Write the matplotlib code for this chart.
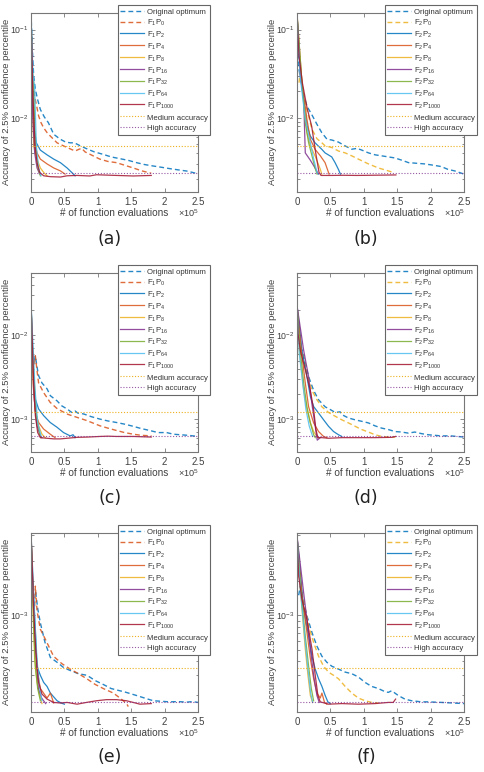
import matplotlib.pyplot as plt
from matplotlib.ticker import LogLocator, LogFormatterMathtext, NullFormatter

plt.rcParams['font.family'] = ['Liberation Sans', 'DejaVu Sans']
plt.rcParams['mathtext.fontset'] = 'custom'
plt.rcParams['mathtext.rm'] = 'Liberation Sans'
plt.rcParams['mathtext.it'] = 'Liberation Sans:italic'
plt.rcParams['mathtext.bf'] = 'Liberation Sans:bold'

# x in units of 1e5 function evaluations, y = accuracy
# ---- panel (a) ----
A_orig = ([0, 0.02, 0.04, 0.065, 0.1, 0.14, 0.2, 0.26, 0.34, 0.44, 0.52, 0.59, 0.65, 0.74, 0.85, 0.95, 1.08, 1.2, 1.33, 1.45, 1.58, 1.7, 1.83, 1.95, 2.08, 2.2, 2.33, 2.42, 2.5],
          [0.155, 0.06, 0.03, 0.021, 0.016, 0.0124, 0.0102, 0.0088, 0.0065, 0.0057, 0.0053, 0.0052, 0.0052, 0.0048, 0.0044, 0.0041, 0.00385, 0.0036, 0.00344, 0.0033, 0.0031, 0.00295, 0.00284, 0.00275, 0.00265, 0.00257, 0.00249, 0.0024, 0.00232])
A_p0 = ([0.04, 0.065, 0.09, 0.114, 0.15, 0.189, 0.24, 0.29, 0.39, 0.54, 0.66, 0.72, 0.76, 0.81, 0.9, 1.03, 1.15, 1.28, 1.4, 1.53, 1.66, 1.80],
        [0.02, 0.016, 0.013, 0.0105, 0.0088, 0.0077, 0.0068, 0.0062, 0.0052, 0.0046, 0.0042, 0.0044, 0.0045, 0.0041, 0.0038, 0.0034, 0.0032, 0.0031, 0.0029, 0.0027, 0.0025, 0.00235])
A_p2 = ([0, 0.025, 0.05, 0.08, 0.14, 0.24, 0.34, 0.44, 0.54, 0.61, 0.66],
        [0.155, 0.025, 0.0074, 0.0052, 0.0043, 0.0038, 0.0034, 0.0031, 0.0027, 0.0024, 0.0022])
A_p4 = ([0, 0.015, 0.04, 0.09, 0.14, 0.24, 0.34, 0.44, 0.51],
        [0.155, 0.0385, 0.0057, 0.004, 0.0034, 0.003, 0.0027, 0.0025, 0.0023])
A_p8 = ([0, 0.015, 0.04, 0.09, 0.14, 0.19, 0.24],
        [0.155, 0.03, 0.0048, 0.0034, 0.0027, 0.0024, 0.0022])
A_p16 = ([0, 0.025, 0.055, 0.09, 0.13],
         [0.155, 0.0105, 0.004, 0.0027, 0.0023])
A_p32 = ([0, 0.02, 0.04, 0.065, 0.1, 0.14],
         [0.155, 0.035, 0.025, 0.0052, 0.0028, 0.0022])
A_p64 = ([0, 0.03, 0.055, 0.08, 0.114, 0.15],
         [0.155, 0.03, 0.022, 0.0048, 0.0027, 0.0022])
A_p1000 = ([0, 0.03, 0.06, 0.09, 0.13, 0.19, 0.29, 0.44, 0.54, 0.69, 0.88, 0.98, 1.13, 1.28, 1.53, 1.8],
           [0.155, 0.016, 0.0048, 0.0031, 0.0024, 0.0022, 0.00215, 0.00213, 0.0022, 0.00222, 0.00219, 0.00226, 0.00224, 0.00222, 0.00219, 0.00222])

# ---- panel (b) ----
B_orig = ([0, 0.03, 0.1, 0.15, 0.22, 0.30, 0.37, 0.45, 0.52, 0.62, 0.72, 0.82, 0.90, 0.97, 1.07, 1.17, 1.27, 1.37, 1.47, 1.57, 1.67, 1.79, 1.91, 2.04, 2.16, 2.26, 2.36, 2.5],
          [0.15, 0.035, 0.018, 0.0135, 0.0109, 0.0084, 0.0068, 0.0057, 0.0056, 0.0053, 0.0048, 0.0044, 0.0045, 0.0043, 0.0040, 0.0038, 0.0037, 0.0036, 0.0035, 0.0033, 0.0031, 0.00305, 0.003, 0.0029, 0.0028, 0.0026, 0.0025, 0.0023])
B_p0 = ([0.03, 0.05, 0.1, 0.149, 0.224, 0.298, 0.373, 0.422, 0.522, 0.621, 0.721, 0.82, 0.919, 1.069, 1.218, 1.367, 1.44],
        [0.025, 0.0334, 0.0175, 0.0124, 0.0074, 0.0058, 0.0052, 0.0048, 0.0046, 0.0042, 0.0040, 0.0037, 0.0034, 0.0030, 0.0027, 0.0025, 0.0024])
B_p2 = ([0, 0.05, 0.1, 0.15, 0.2, 0.27, 0.37, 0.42, 0.52, 0.57, 0.62, 0.65],
        [0.15, 0.03, 0.0161, 0.0081, 0.0062, 0.0052, 0.0044, 0.0040, 0.0036, 0.0031, 0.0026, 0.0023])
B_p4 = ([0, 0.075, 0.149, 0.2, 0.27, 0.35, 0.42, 0.48],
        [0.15, 0.0247, 0.0096, 0.0057, 0.0044, 0.0037, 0.0031, 0.0023])
B_p8 = ([0, 0.05, 0.1, 0.149, 0.2, 0.27, 0.35, 0.37],
        [0.15, 0.033, 0.016, 0.0068, 0.0048, 0.0037, 0.0026, 0.0023])
B_p16 = ([0, 0.05, 0.1, 0.124, 0.2, 0.27, 0.32],
         [0.15, 0.03, 0.016, 0.004, 0.0033, 0.0027, 0.0023])
B_p32 = ([0, 0.075, 0.124, 0.174, 0.224, 0.27, 0.30],
         [0.15, 0.0247, 0.0088, 0.0052, 0.0037, 0.0027, 0.0023])
B_p64 = ([0, 0.05, 0.124, 0.2, 0.25, 0.3, 0.32],
         [0.15, 0.028, 0.0096, 0.0052, 0.0034, 0.0024, 0.0023])
B_p1000 = ([0, 0.03, 0.08, 0.15, 0.22, 0.28, 0.33, 0.36, 0.5, 0.7, 0.9, 1.1, 1.3, 1.48],
           [0.15, 0.05, 0.025, 0.013, 0.008, 0.004, 0.0024, 0.00222, 0.00222, 0.00223, 0.00222, 0.00223, 0.00224, 0.00225])

# ---- panel (c) ----
C_orig = ([0.05, 0.065, 0.09, 0.114, 0.164, 0.24, 0.29, 0.39, 0.46, 0.54, 0.61, 0.66, 0.70, 0.79, 0.9, 1.03, 1.15, 1.28, 1.4, 1.53, 1.65, 1.78, 1.9, 2.03, 2.13, 2.23, 2.35, 2.5],
          [0.005, 0.0057, 0.0042, 0.0033, 0.0027, 0.0023, 0.0019, 0.00165, 0.00144, 0.00132, 0.0012, 0.00125, 0.00118, 0.00115, 0.00107, 0.0010, 0.00095, 0.00091, 0.00087, 0.00082, 0.00077, 0.00073, 0.00069, 0.00069, 0.00066, 0.00065, 0.00064, 0.00062])
C_p0 = ([0.05, 0.065, 0.09, 0.114, 0.189, 0.288, 0.388, 0.537, 0.686, 0.835, 1.034, 1.15, 1.282, 1.4, 1.531, 1.65, 1.804],
        [0.0045, 0.0057, 0.0038, 0.0027, 0.00207, 0.00158, 0.00134, 0.00115, 0.00105, 0.00096, 0.00083, 0.00078, 0.00073, 0.00069, 0.00066, 0.00064, 0.00063])
C_p2 = ([0, 0.02, 0.04, 0.065, 0.114, 0.189, 0.288, 0.388, 0.487, 0.586, 0.63, 0.66],
        [0.0245, 0.009, 0.0027, 0.00173, 0.00132, 0.0011, 0.00091, 0.0008, 0.00069, 0.00063, 0.00065, 0.0006])
C_p4 = ([0, 0.015, 0.03, 0.065, 0.114, 0.189, 0.288, 0.36],
        [0.0245, 0.009, 0.0027, 0.0012, 0.00091, 0.00076, 0.00066, 0.0006])
C_p8 = ([0, 0.025, 0.065, 0.114, 0.164, 0.214],
        [0.0245, 0.0043, 0.0013, 0.00083, 0.00066, 0.0006])
C_p16 = ([0, 0.02, 0.05, 0.09, 0.14, 0.164],
         [0.0245, 0.0068, 0.0017, 0.00083, 0.00063, 0.0006])
C_p32 = ([0, 0.02, 0.05, 0.08, 0.13, 0.15],
         [0.0245, 0.0082, 0.0027, 0.0011, 0.00066, 0.0006])
C_p64 = ([0, 0.03, 0.06, 0.1, 0.15],
         [0.0245, 0.0075, 0.0023, 0.00091, 0.00063])
C_p1000 = ([0, 0.015, 0.04, 0.065, 0.1, 0.14, 0.24, 0.34, 0.44, 0.54, 0.69, 0.85, 1.03, 1.15, 1.28, 1.53, 1.8],
           [0.0245, 0.0108, 0.0027, 0.0011, 0.00069, 0.0006, 0.00059, 0.00058, 0.00058, 0.00059, 0.000605, 0.00061, 0.00062, 0.000625, 0.00062, 0.00062, 0.00061])

# ---- panel (d) ----
D_orig = ([0.05, 0.075, 0.124, 0.174, 0.249, 0.323, 0.422, 0.497, 0.572, 0.646, 0.671, 0.77, 0.87, 0.969, 1.069, 1.168, 1.267, 1.367, 1.466, 1.566, 1.665, 1.764, 1.864, 1.963, 2.06, 2.162, 2.3, 2.5],
          [0.0073, 0.0066, 0.0046, 0.0032, 0.0022, 0.0017, 0.0014, 0.0013, 0.0012, 0.00122, 0.00113, 0.00103, 0.00098, 0.00094, 0.0009, 0.00083, 0.00078, 0.00075, 0.00071, 0.0007, 0.00068, 0.0007, 0.00067, 0.00065, 0.00064, 0.00063, 0.00063, 0.00061])
D_p0 = ([0.035, 0.05, 0.1, 0.149, 0.224, 0.298, 0.373, 0.472, 0.572, 0.671, 0.77, 0.87, 0.969, 1.069, 1.168, 1.267, 1.367, 1.47],
        [0.0058, 0.0073, 0.0055, 0.0035, 0.0022, 0.0017, 0.0014, 0.0012, 0.00108, 0.00098, 0.0009, 0.00082, 0.00075, 0.0007, 0.00065, 0.00062, 0.00061, 0.00061])
D_p2 = ([0, 0.075, 0.149, 0.2, 0.249, 0.323, 0.398, 0.472, 0.547, 0.621, 0.671],
        [0.0227, 0.0066, 0.0032, 0.00186, 0.00141, 0.00118, 0.00098, 0.00082, 0.00071, 0.00065, 0.00062])
D_p4 = ([0, 0.065, 0.124, 0.174, 0.249, 0.323, 0.398, 0.447],
        [0.0227, 0.0066, 0.0027, 0.0014, 0.0009, 0.00071, 0.00062, 0.0006])
D_p8 = ([0, 0.035, 0.1, 0.149, 0.2, 0.249, 0.298, 0.323],
        [0.0227, 0.0066, 0.0022, 0.0013, 0.0009, 0.00071, 0.00062, 0.0006])
D_p16 = ([0, 0.1, 0.174, 0.224, 0.273, 0.303, 0.348],
         [0.0227, 0.0066, 0.0032, 0.0015, 0.00082, 0.00056, 0.0006])
D_p32 = ([0, 0.05, 0.1, 0.149, 0.2, 0.249, 0.273],
         [0.0227, 0.0066, 0.0027, 0.0014, 0.0009, 0.00065, 0.0006])
D_p64 = ([0, 0.035, 0.085, 0.134, 0.184, 0.234],
         [0.0227, 0.006, 0.0027, 0.0013, 0.00082, 0.00062])
D_p1000 = ([0, 0.015, 0.05, 0.124, 0.199, 0.249, 0.283, 0.313, 0.373, 0.472, 0.671, 0.92, 1.168, 1.417, 1.476],
           [0.0227, 0.0105, 0.0066, 0.0039, 0.0022, 0.0013, 0.00075, 0.0006, 0.0006, 0.00059, 0.0006, 0.0006, 0.0006, 0.000605, 0.00062])

# ---- panel (e) ----
E_orig = ([0.07, 0.1, 0.14, 0.21, 0.29, 0.39, 0.49, 0.59, 0.71, 0.84, 0.96, 1.08, 1.2, 1.33, 1.4, 1.46, 1.58, 1.7, 1.83, 1.95, 2.08, 2.2, 2.33, 2.42, 2.5],
          [0.0016, 0.00115, 0.00086, 0.00058, 0.00043, 0.00039, 0.00035, 0.00033, 0.00031, 0.0003, 0.00027, 0.00025, 0.00023, 0.00022, 0.000215, 0.00021, 0.0002, 0.00019, 0.00018, 0.000178, 0.000176, 0.000177, 0.000175, 0.000177, 0.000174])
E_p0 = ([0.055, 0.065, 0.09, 0.139, 0.214, 0.338, 0.46, 0.586, 0.71, 0.835, 0.96, 1.083, 1.233, 1.332, 1.431, 1.456],
        [0.0012, 0.0018, 0.0011, 0.00076, 0.00062, 0.00044, 0.00038, 0.00034, 0.00031, 0.00028, 0.00025, 0.00023, 0.00021, 0.00019, 0.00017, 0.00016])
E_p2 = ([0, 0.05, 0.09, 0.14, 0.19, 0.24, 0.29, 0.39, 0.45, 0.5],
        [0.00524, 0.00113, 0.00036, 0.0003, 0.00026, 0.00024, 0.00021, 0.00018, 0.000172, 0.000168])
E_p4 = ([0, 0.04, 0.09, 0.14, 0.24, 0.29, 0.34],
        [0.00524, 0.00113, 0.00034, 0.00023, 0.00019, 0.00021, 0.000172])
E_p8 = ([0, 0.03, 0.055, 0.09, 0.13, 0.164],
        [0.00524, 0.00113, 0.00041, 0.00026, 0.0002, 0.00017])
E_p16 = ([0, 0.02, 0.06, 0.11, 0.16, 0.22],
         [0.00524, 0.002, 0.0006, 0.00023, 0.00019, 0.00017])
E_p32 = ([0, 0.02, 0.04, 0.065, 0.1, 0.14],
         [0.00524, 0.0022, 0.00081, 0.00036, 0.00023, 0.00018])
E_p64 = ([0, 0.025, 0.055, 0.09, 0.13, 0.164],
         [0.00524, 0.0018, 0.00099, 0.00041, 0.00023, 0.00018])
E_p1000 = ([0, 0.015, 0.04, 0.065, 0.09, 0.114, 0.164, 0.24, 0.34, 0.44, 0.54, 0.69, 0.83, 0.98, 1.13, 1.28, 1.43, 1.53, 1.63, 1.8],
           [0.00524, 0.00307, 0.00113, 0.00058, 0.00036, 0.00026, 0.000206, 0.000186, 0.000174, 0.000172, 0.000174, 0.000168, 0.000174, 0.00018, 0.000184, 0.000184, 0.00018, 0.000174, 0.000168, 0.00017])

# ---- panel (f) ----
F_orig = ([0.025, 0.05, 0.1, 0.149, 0.224, 0.298, 0.373, 0.447, 0.522, 0.621, 0.721, 0.82, 0.919, 1.019, 1.118, 1.218, 1.317, 1.367, 1.417, 1.516, 1.615, 1.715, 1.864, 1.963, 2.162, 2.33, 2.5],
          [0.0015, 0.0018, 0.00129, 0.00099, 0.00071, 0.00054, 0.00044, 0.00039, 0.00036, 0.00034, 0.00032, 0.00031, 0.00029, 0.00026, 0.00024, 0.00023, 0.000216, 0.000213, 0.00022, 0.0002, 0.000186, 0.00018, 0.000176, 0.000176, 0.000174, 0.000172, 0.00017])
F_p0 = ([0.035, 0.075, 0.124, 0.174, 0.249, 0.323, 0.398, 0.472, 0.547, 0.621, 0.721, 0.82, 0.919, 1.019, 1.118, 1.218],
        [0.0022, 0.00157, 0.00113, 0.00081, 0.00058, 0.00044, 0.00036, 0.00032, 0.0003, 0.00028, 0.00024, 0.00021, 0.00019, 0.00018, 0.000174, 0.000172])
F_p2 = ([0, 0.1, 0.174, 0.224, 0.273, 0.323, 0.373, 0.422, 0.462, 0.497],
        [0.0049, 0.00113, 0.00066, 0.00044, 0.00034, 0.00028, 0.00024, 0.0002, 0.000176, 0.00017])
F_p4 = ([0, 0.075, 0.149, 0.2, 0.249, 0.298, 0.348, 0.373, 0.412, 0.447],
        [0.0049, 0.00148, 0.00071, 0.00042, 0.00028, 0.00021, 0.00019, 0.00021, 0.000174, 0.000168])
F_p8 = ([0, 0.035, 0.075, 0.124, 0.164, 0.2, 0.234],
        [0.0049, 0.0022, 0.00113, 0.00051, 0.0003, 0.0002, 0.000174])
F_p16 = ([0, 0.1, 0.149, 0.2, 0.249, 0.298, 0.333],
         [0.0049, 0.00157, 0.00092, 0.00051, 0.0003, 0.0002, 0.000174])
F_p32 = ([0, 0.065, 0.124, 0.174, 0.214, 0.249],
         [0.0049, 0.00148, 0.00066, 0.00036, 0.00023, 0.00018])
F_p64 = ([0, 0.05, 0.114, 0.164, 0.204, 0.234],
         [0.0049, 0.0017, 0.00066, 0.00034, 0.00021, 0.000174])
F_p1000 = ([0, 0.025, 0.075, 0.149, 0.224, 0.273, 0.313, 0.348, 0.472, 0.671, 0.92, 1.168, 1.367, 1.44, 1.476],
           [0.0049, 0.0022, 0.00137, 0.00092, 0.00051, 0.0003, 0.0002, 0.000176, 0.000168, 0.00017, 0.000168, 0.00017, 0.000174, 0.000174, 0.000186])

# y-limits and accuracy thresholds per row
ylims = [(1.46e-3, 0.154), (4.1e-4, 0.0555), (1.45e-4, 5.24e-3)]
medium_acc = [4.8e-3, 1.23e-3, 3.48e-4]
high_acc = [2.35e-3, 6.2e-4, 1.74e-4]
p_levels = ['2', '4', '8', '16', '32', '64', '1000']
xticks = [0, 0.5, 1, 1.5, 2, 2.5]
xticklabels = ['0', '0.5', '1', '1.5', '2', '2.5']
panel_names = ['(a)', '(b)', '(c)', '(d)', '(e)', '(f)']

BLUE, ORANGE, YELLOW = '#0072BD', '#D95319', '#EDB120'
PURPLE, GREEN, CYAN, RED = '#7E2F8E', '#77AC30', '#4DBEEE', '#A2142F'
p_colors = [BLUE, ORANGE, YELLOW, PURPLE, GREEN, CYAN, RED]

panels = [
    (1, [A_orig, A_p0, A_p2, A_p4, A_p8, A_p16, A_p32, A_p64, A_p1000]),
    (2, [B_orig, B_p0, B_p2, B_p4, B_p8, B_p16, B_p32, B_p64, B_p1000]),
    (1, [C_orig, C_p0, C_p2, C_p4, C_p8, C_p16, C_p32, C_p64, C_p1000]),
    (2, [D_orig, D_p0, D_p2, D_p4, D_p8, D_p16, D_p32, D_p64, D_p1000]),
    (1, [E_orig, E_p0, E_p2, E_p4, E_p8, E_p16, E_p32, E_p64, E_p1000]),
    (2, [F_orig, F_p0, F_p2, F_p4, F_p8, F_p16, F_p32, F_p64, F_p1000]),
]

W, H = 484, 772
fig = plt.figure(figsize=(W / 100, H / 100), dpi=100)

AX_LEFT = [31, 297]
ROW_TOP = [13, 273, 533]
AX_W, AX_H = 167, 178.5
LEG_LEFT = [118, 385]
LAB_X = [110, 366]
LAB_Y = [239, 498, 757]
TXT = '#404040'
EDGE = '#777777'

for i, (fam, curves) in enumerate(panels):
    row, col = i // 2, i % 2
    left, top = AX_LEFT[col], ROW_TOP[row]
    ax = fig.add_axes([left / W, 1 - (top + AX_H) / H, AX_W / W, AX_H / H])
    ax.set_yscale('log')

    dash = (0, (3.5, 2.2))
    p0_color = ORANGE if fam == 1 else YELLOW
    ox, oy = curves[0]
    ax.plot(ox, oy, color=BLUE, lw=1.0, ls=dash, alpha=0.85, label='Original optimum')
    px0, py0 = curves[1]
    ax.plot(px0, py0, color=p0_color, lw=1.0, ls=dash, alpha=0.85,
            label=r'F$_%d$P$_0$' % fam)
    for (cx, cy), lev, c in zip(curves[2:], p_levels, p_colors):
        ax.plot(cx, cy, color=c, lw=0.9, alpha=0.85,
                label=r'F$_%d$P$_{%s}$' % (fam, lev))
    ax.axhline(medium_acc[row], color=YELLOW, lw=0.8, ls=(0, (1, 1.6)), label='Medium accuracy')
    ax.axhline(high_acc[row], color=PURPLE, lw=0.8, ls=(0, (1, 1.6)), alpha=0.8, label='High accuracy')

    ax.set_xlim(0, 2.5)
    ax.set_ylim(*ylims[row])
    ax.set_xticks(xticks)
    ax.set_xticklabels(xticklabels)
    ax.yaxis.set_major_locator(LogLocator(base=10))
    ax.yaxis.set_major_formatter(LogFormatterMathtext(base=10))
    ax.yaxis.set_minor_formatter(NullFormatter())
    ax.tick_params(which='both', direction='in', top=True, right=True,
                   colors=EDGE, labelcolor=TXT, width=0.6)
    ax.tick_params(which='major', length=3)
    ax.tick_params(which='minor', length=1.8)
    ax.tick_params(axis='x', labelsize=7, pad=4)
    ax.tick_params(axis='y', labelsize=6.3, pad=1.5)
    for s in ax.spines.values():
        s.set_color(EDGE)
        s.set_linewidth(0.8)

    ax.set_xlabel('# of function evaluations', fontsize=7.2, color=TXT)
    ax.xaxis.set_label_coords(0.5, -0.092)
    ax.set_ylabel('Accuracy of 2.5% confidence percentile', fontsize=6.8, color=TXT)
    ax.yaxis.set_label_coords(-0.122, 0.5)
    ax.text(0.945, -0.123, r'$\times10^{5}$', transform=ax.transAxes,
            ha='center', va='center', fontsize=6.6, color=TXT)

    leg = ax.legend(loc='upper left', bbox_to_anchor=(LEG_LEFT[col] / W, 1 - (top - 8) / H),
                    bbox_transform=fig.transFigure, fontsize=5.6, frameon=True, fancybox=False,
                    framealpha=1, edgecolor='#666666', borderpad=0.3, labelspacing=0.2,
                    handlelength=3.1, handleheight=1.4, handletextpad=0.3, borderaxespad=0)
    leg.get_frame().set_linewidth(0.8)
    for t in leg.get_texts():
        t.set_color('#333333')

    fig.text(LAB_X[col] / W, 1 - LAB_Y[row] / H, panel_names[i], ha='center', va='center',
             fontsize=12.5, family='DejaVu Sans', color='#222222')

fig.savefig('out.png', dpi=100)
